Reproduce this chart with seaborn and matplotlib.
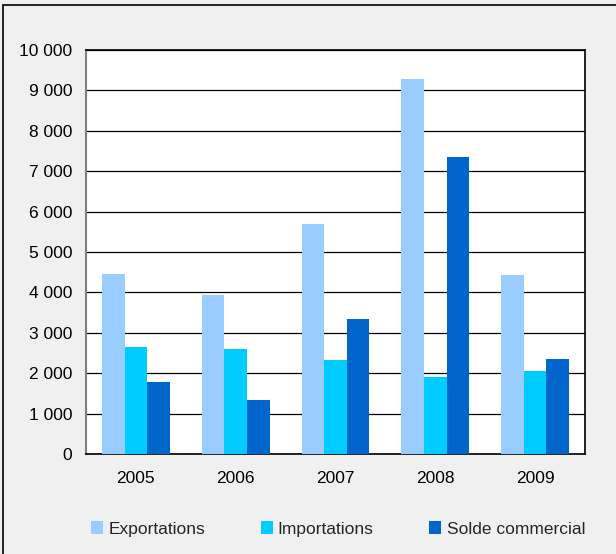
import pandas as pd
import numpy as np
import matplotlib
matplotlib.use('Agg')
import matplotlib.pyplot as plt
import matplotlib.patches as mpatches
from matplotlib.ticker import FuncFormatter
import seaborn as sns

annees = ['2005', '2006', '2007', '2008', '2009']
exportations = [4460, 3940, 5690, 9280, 4430]
importations = [2650, 2600, 2330, 1910, 2050]
solde = [1780, 1340, 3340, 7350, 2350]

series = ['Exportations', 'Importations', 'Solde commercial']
couleurs = ['#99CCFF', '#00CCFF', '#0066CC']

df = pd.DataFrame({'annee': annees * 3,
                   'valeur': exportations + importations + solde,
                   'serie': [s for s in series for _ in annees]})

sns.set_style('white')
plt.rcParams['font.family'] = ['Liberation Sans', 'DejaVu Sans']

fig = plt.figure(figsize=(6.16, 5.54), dpi=100, facecolor='#F0F0F0')
ax = fig.add_axes([86/616, 100/554, 499/616, 404/554])

sns.barplot(data=df, x='annee', y='valeur', hue='serie', palette=couleurs,
            width=0.68, gap=0, saturation=1, linewidth=0, ax=ax, zorder=3)

ax.set_ylim(0, 10000)
ax.set_yticks(np.arange(0, 10001, 1000))
ax.yaxis.set_major_formatter(FuncFormatter(lambda v, p: '{:,.0f}'.format(v).replace(',', ' ')))
ax.grid(axis='y', color='black', linewidth=0.9, zorder=0)
ax.set_axisbelow(True)
ax.set_xlabel('')
ax.set_ylabel('')
ax.tick_params(axis='both', labelsize=12.5, length=0, colors='black')
ax.tick_params(axis='x', pad=12)
ax.tick_params(axis='y', pad=10)
for s in ['top', 'right', 'bottom']:
    ax.spines[s].set_color('black')
    ax.spines[s].set_linewidth(1.2)
ax.spines['left'].set_color('#808080')
ax.spines['left'].set_linewidth(1.5)

leg = ax.legend(loc='center', bbox_to_anchor=(338/616, 25/554), bbox_transform=fig.transFigure,
                ncol=3, frameon=False, fontsize=12.5, handlelength=0.7, handleheight=0.7,
                handletextpad=0.3, columnspacing=3.2)

border = mpatches.Rectangle((3/616, -0.1), 1.2, 1.1 - 5/554, transform=fig.transFigure,
                            fill=False, edgecolor='black', linewidth=1.2)
fig.patches.append(border)

fig.savefig('out.png', dpi=100, facecolor=fig.get_facecolor())
